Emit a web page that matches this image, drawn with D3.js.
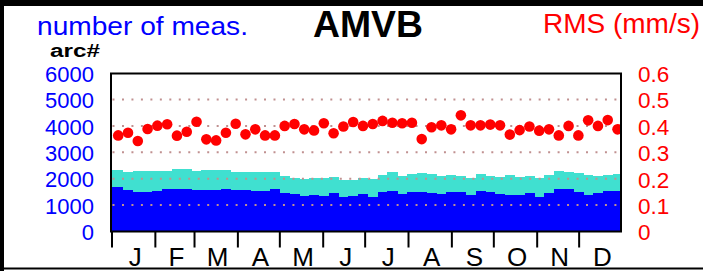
<!DOCTYPE html>
<html>
<head>
<meta charset="utf-8">
<script src="https://cdn.jsdelivr.net/npm/d3@7"></script>
<style>
  html, body { margin: 0; padding: 0; background: #fff; }
  svg { display: block; }
  text { font-family: "Liberation Sans", Arial, Helvetica, sans-serif; }
</style>
</head>
<body>
<svg id="chart" width="703" height="271"></svg>
<script>
// ---- data ----
const monthLabels = ["J","F","M","A","M","J","J","A","S","O","N","D"];
const leftTicks  = [0, 1000, 2000, 3000, 4000, 5000, 6000];
const rightTicks = [0, 0.1, 0.2, 0.3, 0.4, 0.5, 0.6];
const gridValues = [1000, 2000, 3000, 4000, 5000];

// weekly number of measurements: all (turquoise) and subset (blue)
const measAll = [2341,2265,2280,2290,2303,2303,2356,2379,2290,2330,2330,2318,2265,2265,2265,2250,2265,
                 2114,2038,2000,2014,2014,2064,1950,1963,2038,1995,2140,2241,2100,2165,2203,2165,2102,2140,
                 2114,2030,2165,2114,2064,2140,2050,2102,2014,2140,2303,2265,2216,2140,2102,2140,2165];
const measSel = [1697,1572,1496,1510,1545,1621,1621,1621,1590,1583,1583,1598,1583,1561,1545,1534,1621,
                 1446,1408,1360,1383,1340,1446,1320,1345,1420,1300,1484,1547,1420,1496,1496,1458,1430,1509,
                 1484,1400,1547,1509,1433,1395,1370,1446,1300,1458,1622,1597,1509,1380,1446,1534,1534];
// weekly RMS (mm/s)
const rms = [0.364,0.374,0.343,0.388,0.401,0.406,0.363,0.378,0.416,0.349,0.345,0.374,0.408,0.368,0.387,
             0.364,0.364,0.400,0.407,0.387,0.383,0.410,0.372,0.398,0.415,0.400,0.407,0.419,0.412,0.410,
             0.412,0.350,0.395,0.402,0.387,0.440,0.402,0.402,0.405,0.402,0.367,0.384,0.398,0.382,0.387,
             0.364,0.400,0.364,0.421,0.400,0.422,0.387];

const year = 2001;
const dayMs = 864e5;
const t0 = new Date(year, 0, 1);
const weekDates = rms.map((_, i) => new Date(t0.getTime() + (4.8 + 7 * i) * dayMs));

// ---- layout ----
const svg = d3.select("#chart");
const W = 703, H = 271;
const plot = { left: 111, right: 621, top: 73.5, bottom: 231.5 };

const x = d3.scaleTime().domain([t0, new Date(year + 1, 0, 1)]).range([111.5, 622]);
const yL = d3.scaleLinear().domain([0, 6000]).range([plot.bottom, 73.1]);
const yR = d3.scaleLinear().domain([0, 0.6]).range([plot.bottom, 73.1]);

svg.append("rect").attr("width", W).attr("height", H).attr("fill", "#fff");

// outer frame
svg.append("rect").attr("x", 0).attr("y", 0).attr("width", W).attr("height", 6).attr("fill", "#000");
svg.append("rect").attr("x", 0).attr("y", 0).attr("width", 4).attr("height", H).attr("fill", "#000");
svg.append("rect").attr("x", 0).attr("y", 267.5).attr("width", W).attr("height", 2).attr("fill", "#000");

// clip for plot interior
svg.append("defs").append("clipPath").attr("id", "plotClip")
  .append("rect").attr("x", plot.left).attr("y", plot.top)
  .attr("width", plot.right - plot.left).attr("height", plot.bottom - plot.top);

const gPlot = svg.append("g").attr("clip-path", "url(#plotClip)");

const halfWeek = 3.5 * dayMs;
function barX0(d, i) { return i === 0 ? x.range()[0] - 1 : x(new Date(d.getTime() - halfWeek)); }
function barX1(d, i) { return x(new Date(d.getTime() + halfWeek)); }

gPlot.append("g").selectAll("rect").data(weekDates).join("rect")
  .attr("x", (d, i) => barX0(d, i))
  .attr("width", (d, i) => barX1(d, i) - barX0(d, i) + 0.3)
  .attr("y", (d, i) => yL(measAll[i]))
  .attr("height", (d, i) => yL(0) - yL(measAll[i]))
  .attr("fill", "#40e0d0")
  .attr("shape-rendering", "crispEdges");

gPlot.append("g").selectAll("rect").data(weekDates).join("rect")
  .attr("x", (d, i) => barX0(d, i))
  .attr("width", (d, i) => barX1(d, i) - barX0(d, i) + 0.3)
  .attr("y", (d, i) => yL(measSel[i]))
  .attr("height", (d, i) => yL(0) - yL(measSel[i]))
  .attr("fill", "#0000ff")
  .attr("shape-rendering", "crispEdges");

// dotted grid
gPlot.append("g").selectAll("line").data(gridValues).join("line")
  .attr("x1", plot.left + 1.5).attr("x2", plot.right)
  .attr("y1", d => yL(d)).attr("y2", d => yL(d))
  .attr("stroke", "#c09090").attr("stroke-width", 2)
  .attr("stroke-dasharray", "2,7.47");

// RMS dots
gPlot.append("g").selectAll("circle").data(weekDates).join("circle")
  .attr("cx", d => x(d))
  .attr("cy", (d, i) => yR(rms[i]))
  .attr("r", 5.3)
  .attr("fill", "#ff0000");

// plot frame
svg.append("rect")
  .attr("x", plot.left).attr("y", plot.top)
  .attr("width", plot.right - plot.left).attr("height", plot.bottom - plot.top)
  .attr("fill", "none").attr("stroke", "#000").attr("stroke-width", 2);

// month ticks
const xAxis = d3.axisBottom(x).ticks(d3.timeMonth.every(1)).tickSize(16).tickFormat("");
const gx = svg.append("g").attr("transform", `translate(0,${plot.bottom})`).call(xAxis);
gx.select(".domain").remove();
gx.selectAll(".tick line").attr("stroke", "#000").attr("stroke-width", 2);
gx.selectAll(".tick").filter(d => d.getFullYear() > year).remove();

// month labels
const monthStarts = d3.timeMonth.range(t0, new Date(year + 1, 0, 1));
svg.append("g").selectAll("text").data(monthStarts).join("text")
  .attr("x", (d, i) => (x(d) + x(d3.timeMonth.offset(d, 1))) / 2 + 2)
  .attr("y", 266)
  .attr("text-anchor", "middle")
  .attr("font-size", 26)
  .attr("fill", "#000")
  .text((d, i) => monthLabels[i]);

// left axis labels
const gl = svg.append("g").attr("transform", `translate(${plot.left},0)`)
  .call(d3.axisLeft(yL).tickValues(leftTicks).tickSize(0).tickPadding(17).tickFormat(d3.format("d")));
gl.select(".domain").remove();
gl.selectAll("text").attr("font-size", 22).attr("dy", "0.37em").attr("fill", "#0000ff")
  .attr("font-family", "'Liberation Sans', Arial, sans-serif");

// right axis labels
const gr = svg.append("g").attr("transform", `translate(${plot.right},0)`)
  .call(d3.axisRight(yR).tickValues(rightTicks).tickSize(0).tickPadding(17).tickFormat(d => d === 0 ? "0" : d3.format(".1f")(d)));
gr.select(".domain").remove();
gr.selectAll("text").attr("font-size", 22.5).attr("dy", "0.37em").attr("fill", "#ff0000")
  .attr("font-family", "'Liberation Sans', Arial, sans-serif");

// titles
svg.append("text").attr("x", 37).attr("y", 35).attr("font-size", 26).attr("fill", "#0000ff")
  .attr("textLength", 211).attr("lengthAdjust", "spacingAndGlyphs").text("number of meas.");
svg.append("text").attr("x", 368).attr("y", 37).attr("font-size", 37).attr("font-weight", "bold")
  .attr("text-anchor", "middle").attr("fill", "#000")
  .attr("textLength", 110).attr("lengthAdjust", "spacingAndGlyphs").text("AMVB");
svg.append("text").attr("x", 543).attr("y", 33).attr("font-size", 27).attr("fill", "#ff0000")
  .attr("textLength", 157).attr("lengthAdjust", "spacingAndGlyphs").text("RMS (mm/s)");
svg.append("text").attr("x", 50).attr("y", 57).attr("font-size", 18).attr("font-weight", "bold")
  .attr("fill", "#000").attr("textLength", 50).attr("lengthAdjust", "spacingAndGlyphs").text("arc#");
</script>
</body>
</html>
